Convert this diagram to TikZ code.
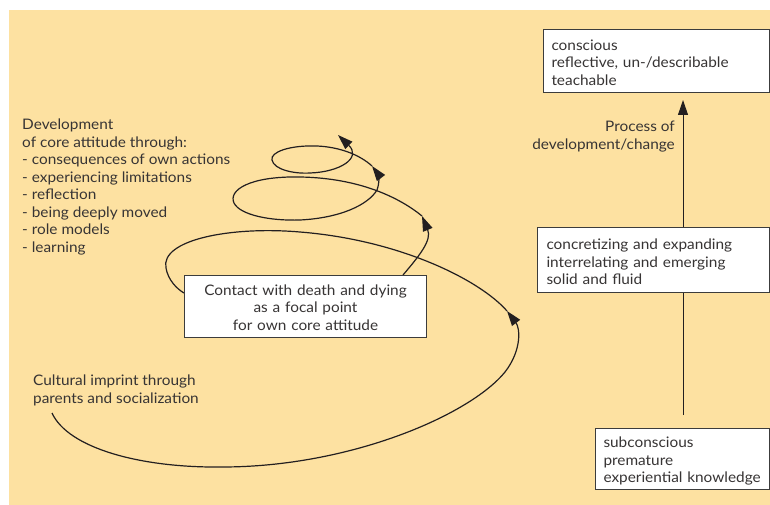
\documentclass[tikz,border=0pt]{standalone}
\usepackage{fontspec}
\setmainfont{Lato}[FakeStretch=1.06]
\usetikzlibrary{arrows.meta}
\definecolor{bg}{RGB}{253,225,161}
\definecolor{ink}{RGB}{35,31,32}
\definecolor{txt}{RGB}{55,52,52}
\definecolor{frame}{RGB}{60,60,60}
\newcommand{\lowerstrut}[1]{\rule{0pt}{#1}}
\begin{document}
\begin{tikzpicture}[x=1pt,y=-1pt,
  lbl/.style={font=\fontsize{14.5}{17.5}\selectfont, text=txt, inner sep=0pt, align=left},
  boxnode/.style={draw=frame, line width=1pt, fill=white, font=\fontsize{14.5}{17.5}\selectfont, text=txt, inner ysep=0pt, anchor=north west},
  spiral/.style={draw=ink, line width=1.2pt},
  tip/.style={-{Triangle[length=15pt,width=10pt]}}
]
\useasboundingbox (0,0) rectangle (770,505);
\fill[bg] (9,10) rectangle (770,505);

% spiral
\coordinate (s0) at (52,413);
\coordinate (a1) at (507,311);
\coordinate (bl) at (184,293);
\coordinate (bt) at (403,275);
\coordinate (a2) at (422,216);
\coordinate (a3) at (372,166);
\coordinate (a4) at (338,135);
\draw[spiral, tip] (s0) .. controls (68,448) and (140,468) .. (222,467)
  .. controls (350,467) and (470,415) .. (505,372)
  .. controls (522,350) and (520,328) .. (a1);
\draw[spiral] (a1) .. controls (480,280) and (400,240) .. (300,232)
  .. controls (230,226) and (160,240) .. (166,268)
  .. controls (168,280) and (177,289) .. (bl);
\draw[spiral, tip] (bt) .. controls (420,255) and (432,240) .. (a2);
\draw[spiral, tip] (a2) .. controls (400,198) and (360,178) .. (300,177)
  .. controls (250,176) and (228,190) .. (234,203)
  .. controls (240,215) and (270,221) .. (300,220)
  .. controls (340,218) and (368,205) .. (377,190)
  .. controls (380,182) and (378,174) .. (a3);
\draw[spiral, tip] (a3) .. controls (360,155) and (340,147) .. (317,146)
  .. controls (290,145) and (270,152) .. (272,160)
  .. controls (274,170) and (295,174) .. (310,173)
  .. controls (340,172) and (362,158) .. (a4);

% vertical process arrow
\coordinate (vb) at (683,415);
\coordinate (vt) at (683,100);
\draw[spiral, line width=1pt, tip] (vb) -- (vt);

% boxes
\node[boxnode, minimum width=226pt, minimum height=63pt, text width=210pt, inner xsep=8pt, align=left] (top) at (543,29)
  {\lowerstrut{14pt}conscious\\reflective, un-/describable\\teachable};
\node[boxnode, minimum width=232pt, minimum height=65pt, text width=214pt, inner xsep=9pt, align=left] (mid) at (537,227)
  {\lowerstrut{15pt}concretizing and expanding\\interrelating and emerging\\solid and fluid};
\node[boxnode, minimum width=174pt, minimum height=61pt, text width=158pt, inner xsep=8pt, align=left] (bot) at (595,428)
  {\lowerstrut{15pt}subconscious\\premature\\experiential knowledge};
\node[boxnode, minimum width=242pt, minimum height=62pt, text width=226pt, inner xsep=8pt, align=center] (focal) at (184,275)
  {\lowerstrut{13pt}Contact with death and dying\\as a focal point\\for own core attitude};

% labels
\node[lbl, align=right, anchor=north east] (proc) at (675,121) {Process of\\development/change};
\node[lbl, anchor=north west] (dev) at (22,119) {Development\\of core attitude through:\\- consequences of own actions\\- experiencing limitations\\- reflection\\- being deeply moved\\- role models\\- learning};
\node[lbl, anchor=north west] (cult) at (33,375) {Cultural imprint through\\parents and socialization};
\end{tikzpicture}
\end{document}
